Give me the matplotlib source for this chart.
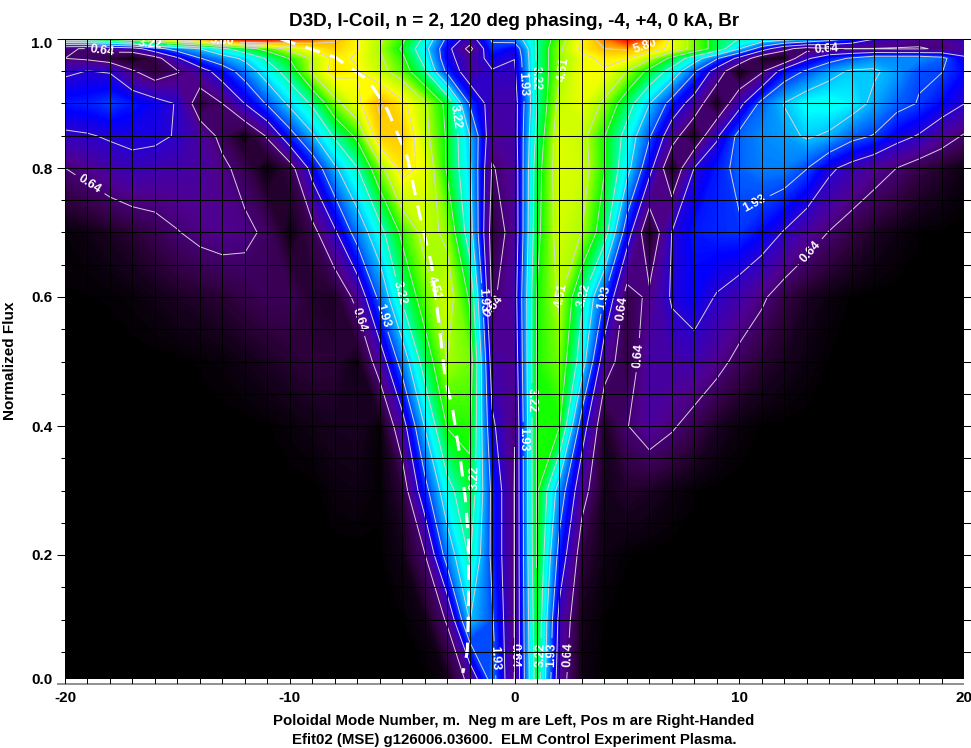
import numpy as np
import matplotlib
matplotlib.use('Agg')
import matplotlib.pyplot as plt
from matplotlib.colors import LinearSegmentedColormap
from matplotlib.transforms import ScaledTranslation

plt.rcParams['font.family'] = ['Liberation Sans', 'DejaVu Sans']
plt.rcParams['font.weight'] = 'bold'

#%% data
m_modes = list(range(-20, 21))
psi_rows = [0.008, 0.1, 0.2, 0.3, 0.4, 0.5, 0.6, 0.7, 0.8, 0.85, 0.9, 0.95, 0.97, 0.985, 1.0]

br_000 = [0]*17 + [.1, .8, 2.2, .62, 3.6, .9, .1] + [0]*17
br_010 = [0]*15 + [.02, .12, .7, 2.6, 2.0, .62, 3.75, 1.1, .15, .02] + [0]*16
br_020 = [0]*14 + [.02, .12, .6, 2.2, 3.3, 1.8, .62, 3.9, 1.7, .35, .1, .03] + [0]*15
br_030 = [0]*12 + [.07, .1, .03, .3, 1.7, 3.0, 3.7, 1.8, .62, 3.95, 2.3, .85, .15, .25, .2, .1, .03] + [0]*12
br_040 = [0]*9 + [.02, .06, .12, .18, .2, .04, 1.0, 2.6, 3.9, 4.0, 1.4, .65,
                  3.95, 3.9, 1.6, .2, .62, .9, .7, .45, .2, .07, .02] + [0]*9
br_050 = [0]*6 + [.03, .06, .12, .2, .28, .35, .3, .1, .9, 2.2, 3.5, 4.5, 4.3, 1.0, .85,
                  3.95, 4.3, 2.9, .9, .35, .95, 1.0, 1.05, .8, .5, .3, .18, .08, .02] + [0]*6
br_060 = [.02, .02, .03, .06, .12, .2, .25, .3, .4, .5, .5, .25, .2, .8, 2.1, 3.3, 4.2, 4.8, 3.8, .55, 1.0,
          3.9, 4.6, 3.3, 1.9, .4, .75, 1.35, 1.55, 1.25, 1.0, .72, .4, .2, .08, .02, 0, 0, 0, 0, 0]
br_070 = [.05, .1, .2, .3, .45, .62, .75, .82, .75, .55, .1, .45, 1.2, 2.2, 3.0, 4.0, 4.7, 4.4, 2.9, .35, .85,
          3.7, 4.8, 4.5, 3.5, 1.6, .1, 1.3, 1.7, 1.8, 1.85, 1.6, 1.25, .9, .62, .4, .22, .1, .03, .01, 0]
br_080 = [.64, .8, 1.0, 1.15, 1.05, 1.0, .95, .75, .45, .05, .4, 1.5, 2.5, 3.2, 4.3, 5.4, 5.0, 3.8, 2.7, .6, .9,
          3.6, 4.9, 4.8, 3.9, 2.8, 1.5, .1, 1.3, 1.7, 2.1, 2.25, 2.25, 1.95, 1.4, 1.1, .85, .64, .4, .25, .1]
br_085 = [1.2, 1.25, 1.35, 1.4, 1.4, 1.25, .95, .5, .1, .7, 1.7, 2.5, 3.3, 4.0, 5.6, 5.7, 4.7, 3.8, 2.6, .85, 1.0,
          3.4, 4.9, 4.7, 3.9, 3.0, 2.0, .9, .15, 1.2, 2.1, 2.3, 2.4, 2.65, 2.5, 2.1, 1.9, 1.5, 1.25, .9, .6]
br_090 = [1.7, 1.75, 1.9, 1.7, 1.5, 1.25, .3, .64, 1.3, 2.0, 2.7, 3.3, 4.3, 5.0, 5.9, 5.3, 4.6, 3.7, 1.9, 1.0, 1.0,
          3.2, 4.7, 5.0, 4.4, 3.5, 2.6, 1.7, 1.0, .1, 1.1, 2.1, 2.6, 2.95, 3.0, 2.85, 2.45, 2.1, 1.9, 1.6, 1.3]
br_095 = [1.2, 1.3, 1.25, .7, .3, .6, 1.0, 1.6, 2.2, 2.9, 3.5, 4.6, 5.4, 5.2, 4.7, 4.2, 3.3, 1.8, .9, 1.25, 1.2,
          3.3, 4.4, 5.1, 5.1, 4.5, 3.7, 3.0, 2.0, 1.0, .05, .55, 1.6, 2.0, 2.4, 2.65, 2.65, 2.4, 2.0, 1.95, 1.6]
br_097 = [.64, .55, .35, .05, .4, 1.2, 1.9, 2.3, 2.7, 3.3, 3.9, 4.6, 5.3, 5.1, 4.6, 4.0, 3.0, 1.5, .9, 1.5, 1.3,
          3.3, 4.4, 5.0, 5.3, 5.2, 4.6, 3.7, 2.9, 2.0, 1.1, .2, .1, 1.2, 1.7, 2.0, 2.3, 2.3, 2.3, 2.1, 1.4]
br_0985 = [.7, .6, .8, 1.0, 1.7, 2.2, 2.6, 3.1, 3.6, 4.1, 4.7, 5.2, 5.6, 5.2, 4.5, 3.8, 2.8, 1.5, .45, 1.8, 1.5,
           3.3, 4.4, 5.3, 5.8, 5.9, 5.5, 5.0, 4.3, 3.6, 2.6, 1.6, .8, .4, .6, .62, .62, .6, .6, .7, .9]
br_100 = [3.6, 3.8, 4.0, 4.4, 5.0, 5.5, 6.0, 6.6, 7.0, 7.0, 6.6, 6.3, 5.9, 5.2, 4.6, 4.0, 3.1, 1.8, 1.0, 2.0, 2.2,
          3.3, 4.2, 5.2, 6.2, 7.0, 6.3, 5.0, 4.3, 3.6, 3.2, 3.0, 2.8, 2.6, 2.2, 1.8, 1.3, 1.0, .8, .8, 1.2]

plain_levels = [1.29, 2.58, 3.87, 5.16]
label_levels = [0.64, 1.93, 3.22, 4.51, 5.80]

# m, psi of the white dashed curve
dash_m = [-10.4, -8, -6.5, -5.65, -4.77, -4.2, -3.7, -3.4, -3.07, -2.77, -2.4, -2.18, -2.04, -2.04, -2.1, -2.3]
dash_psi = [1.0, .972, .936, .89, .817, .724, .652, .57, .47, .43, .347, .285, .218, .13, .05, .017]

# where the contour labels sit
label_spots = [(-18.7, .785), (-6.9, .565), (-5.8, .572), (-5.07, .606), (-3.64, .614), (-2.84, .878),
               (-1.73, .32), (-1.33, .595), (-.9, .585), (.53, .93), (1.3, .94), (2.6, .952), (5.8, .99),
               (13.9, .984), (10.6, .75), (13.07, .673), (2.27, .6), (3.3, .6), (3.96, .6), (4.76, .583),
               (5.47, .51), (-.75, .04), (-.22, .045), (1.2, .045), (1.7, .045), (2.5, .045), (.36, .38),
               (.7, .44), (-18.4, .975), (-13, .995), (-16.2, .993)]

#%% colours
vmax = 7.0
nodes = [(0, '#000000'), (.35, '#30003f'), (.8, '#4f0090'), (1.2, '#3300c0'), (1.6, '#0000ff'),
         (1.93, '#0040ff'), (2.58, '#00c0ff'), (2.9, '#00ffff'), (3.22, '#00ffc0'), (3.87, '#00ff00'),
         (4.51, '#a8ff00'), (5.16, '#ffff00'), (5.8, '#ffc000'), (6.45, '#ff5000'), (7.0, '#ff0000')]
cmap = LinearSegmentedColormap.from_list('idl', [(v/vmax, c) for v, c in nodes], N=512)

#%% plot
Z = np.array([br_000, br_010, br_020, br_030, br_040, br_050, br_060, br_070,
              br_080, br_085, br_090, br_095, br_097, br_0985, br_100], dtype=float)

fig = plt.figure(figsize=(9.71, 7.48), dpi=100)
ax = fig.add_axes([65/971, (748-684)/748, 899/971, 645/748])

ax.contourf(m_modes, psi_rows, Z, levels=np.linspace(0, vmax, 281), cmap=cmap, vmin=0, vmax=vmax, extend='both', antialiased=False)
ax.contour(m_modes, psi_rows, Z, levels=plain_levels, colors='#d8d2dc', linewidths=0.7)
cs = ax.contour(m_modes, psi_rows, Z, levels=label_levels, colors='#d8d2dc', linewidths=0.7)
ax.clabel(cs, fmt='%.2f', manual=label_spots, fontsize=9, colors='white', inline=True)

ax.plot(dash_m, dash_psi, color='white', lw=2.2, dashes=(5, 3.5))

ax.set_xlim(-20, 20)
ax.set_ylim(0, 1)

# black grid, runs past the frame like the ticks of the original
for p in np.arange(0.05, 1.01, 0.05):
    major = abs(p/0.2 - round(p/0.2)) < 1e-6
    ax.hlines(p, -20.36 if major else -20.2, 20.3, color='black', lw=0.75, clip_on=False, zorder=5)
ax.hlines(0, -20.36, 20.0, color='#909090', lw=1.4, clip_on=False, zorder=4)
ax.vlines(np.arange(-20, 21), 0, 1, color='black', lw=0.7, zorder=5)

for s in ax.spines.values():
    s.set_visible(False)
ax.tick_params(length=0, labelsize=11, pad=9)
ax.set_xticks([-20, -10, 0, 10, 20])
ax.set_xticklabels(['-20', '-10', '0', '10', '20'])
ax.set_yticks([0, .2, .4, .6, .8, 1.0])
ax.set_yticklabels(['0.0', '0.2', '0.4', '0.6', '0.8', '1.0'])
ylab = ax.get_yticklabels()
ylab[0].set_transform(ylab[0].get_transform() + ScaledTranslation(0, 5/100, fig.dpi_scale_trans))
ylab[-1].set_transform(ylab[-1].get_transform() + ScaledTranslation(0, -4/100, fig.dpi_scale_trans))
ax.tick_params(axis='x', pad=5)

fig.text(514/971, 1-721/748, 'Poloidal Mode Number, m.  Neg m are Left, Pos m are Right-Handed', ha='center', va='center', fontsize=10.8)
fig.text(514/971, 1-740/748, 'Efit02 (MSE) g126006.03600.  ELM Control Experiment Plasma.', ha='center', va='center', fontsize=10.8)
fig.text(514/971, 1-21/748, 'D3D, I-Coil, n = 2, 120 deg phasing, -4, +4, 0 kA, Br', ha='center', va='center', fontsize=13.6)
fig.text(10/971, 1-361/748, 'Normalized Flux', rotation=90, ha='center', va='center', fontsize=11)

fig.savefig('out.png', dpi=100)
